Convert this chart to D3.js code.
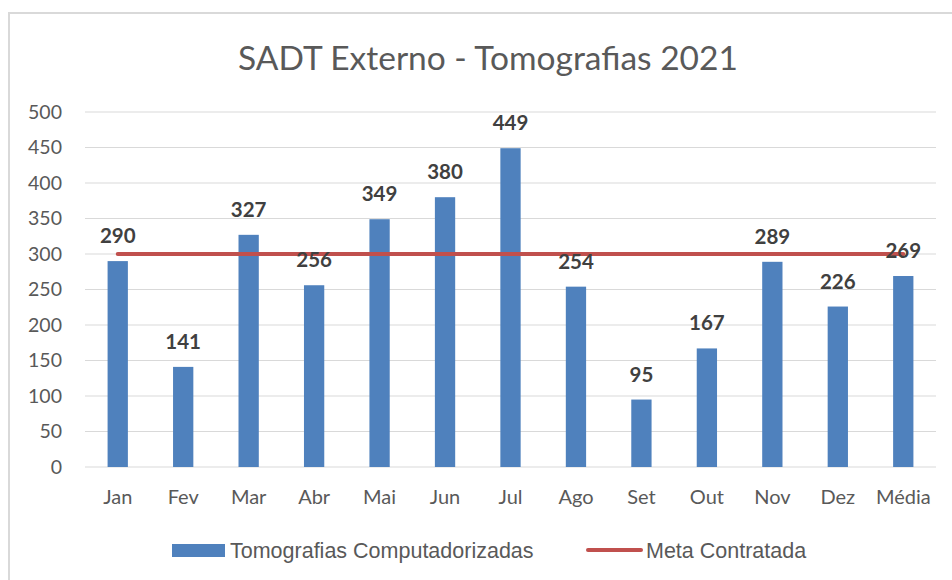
<!DOCTYPE html>
<html>
<head>
<meta charset="utf-8">
<script src="https://cdn.jsdelivr.net/npm/d3@7"></script>
<style>
  body { margin: 0; background: #fff; }
  svg { display: block; font-family: Lato, "Open Sans", sans-serif; }
</style>
</head>
<body>
<svg width="952" height="580"></svg>
<script>
"use strict"

// chart data
const months = ["Jan", "Fev", "Mar", "Abr", "Mai", "Jun", "Jul", "Ago", "Set", "Out", "Nov", "Dez", "Média"]
const tomografias = [290, 141, 327, 256, 349, 380, 449, 254, 95, 167, 289, 226, 269]
const meta = [300, 300, 300, 300, 300, 300, 300, 300, 300, 300, 300, 300, 300]
const yTicks = [0, 50, 100, 150, 200, 250, 300, 350, 400, 450, 500]

const barColor = "#4F81BD",
    lineColor = "#C0504D",
    textColor = "#595959"

let svg = d3.select("svg")

// outer chart frame (runs off the right and bottom edges)
svg.append("rect")
    .attr("x", 9).attr("y", 13)
    .attr("width", 1000).attr("height", 700)
    .attr("fill", "none")
    .attr("stroke", "#d9d9d9")
    .attr("stroke-width", 2)

svg.append("text")
    .attr("x", 488).attr("y", 70)
    .attr("text-anchor", "middle")
    .attr("font-size", 33.5)
    .attr("fill", textColor)
    .text("SADT Externo - Tomografias 2021")

let margin = {top: 112, left: 85},
    width = 851,
    height = 355

let x = d3.scaleBand().domain(months).range([0, width]).paddingInner(0.69).paddingOuter(0.345),
    y = d3.scaleLinear().domain([0, 500]).range([height, 0])

let g = svg.append("g")
    .attr("transform", "translate(" + margin.left + "," + margin.top + ")")

// gridlines
g.selectAll(".grid")
    .data(yTicks)
    .enter().append("line")
    .attr("x1", 0).attr("x2", width)
    .attr("y1", d => y(d)).attr("y2", d => y(d))
    .attr("stroke", "#d9d9d9")
    .attr("stroke-width", 1)

// y axis labels
let yAxis = g.append("g")
    .attr("transform", "translate(-23,0)")
    .call(d3.axisLeft(y).tickValues(yTicks).tickSize(0).tickPadding(0))
yAxis.select(".domain").remove()
yAxis.selectAll("text")
    .attr("font-size", 19.5)
    .attr("font-family", "Lato, sans-serif")
    .attr("fill", textColor)

// x axis labels
let xAxis = g.append("g")
    .attr("transform", "translate(0," + height + ")")
    .call(d3.axisBottom(x).tickSize(0).tickPadding(23))
xAxis.select(".domain").remove()
xAxis.selectAll("text")
    .attr("font-size", 20)
    .attr("font-family", "Lato, sans-serif")
    .attr("fill", textColor)

let data = months.map((m, i) => ({month: m, value: tomografias[i], meta: meta[i]}))

g.selectAll(".bar")
    .data(data)
    .enter().append("rect")
    .attr("class", "bar")
    .attr("x", d => x(d.month))
    .attr("y", d => y(d.value))
    .attr("width", x.bandwidth())
    .attr("height", d => height - y(d.value))
    .attr("fill", barColor)

let line = d3.line()
    .x(d => x(d.month) + x.bandwidth() / 2)
    .y(d => y(d.meta))

g.append("path")
    .datum(data)
    .attr("d", line)
    .attr("fill", "none")
    .attr("stroke", lineColor)
    .attr("stroke-width", 4)
    .attr("stroke-linecap", "round")

// value labels above bars
g.selectAll(".label")
    .data(data)
    .enter().append("text")
    .attr("class", "label")
    .attr("x", d => x(d.month) + x.bandwidth() / 2)
    .attr("y", d => y(d.value) - 18)
    .attr("text-anchor", "middle")
    .attr("font-size", 20.5)
    .attr("font-weight", "bold")
    .attr("fill", "#404040")
    .text(d => d.value)

// legend
let legend = svg.append("g")
legend.append("rect")
    .attr("x", 172).attr("y", 544)
    .attr("width", 53).attr("height", 13)
    .attr("fill", barColor)
legend.append("text")
    .attr("x", 230).attr("y", 558)
    .attr("font-size", 21.5)
    .attr("font-family", "'Liberation Sans Narrow', sans-serif")
    .attr("fill", textColor)
    .text("Tomografias Computadorizadas")
legend.append("line")
    .attr("x1", 588).attr("x2", 641)
    .attr("y1", 550).attr("y2", 550)
    .attr("stroke", lineColor)
    .attr("stroke-width", 4)
    .attr("stroke-linecap", "round")
legend.append("text")
    .attr("x", 646).attr("y", 558)
    .attr("font-size", 21.5)
    .attr("font-family", "'Liberation Sans Narrow', sans-serif")
    .attr("fill", textColor)
    .text("Meta Contratada")
</script>
</body>
</html>
